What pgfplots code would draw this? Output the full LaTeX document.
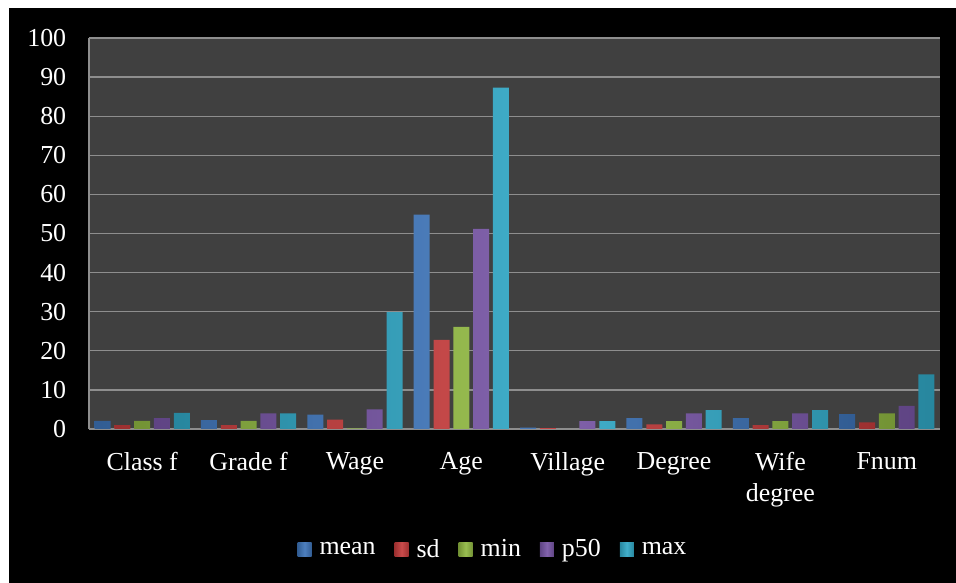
\documentclass[border=0pt]{standalone}
\usepackage{fontspec}
\setmainfont{Liberation Serif}
\usepackage{pgfplots}
\pgfplotsset{compat=1.18}
\definecolor{cmean}{HTML}{3E74B8}
\definecolor{csd}{HTML}{C43C3C}
\definecolor{cmin}{HTML}{90B842}
\definecolor{cp}{HTML}{7755A5}
\definecolor{cmax}{HTML}{31A8C6}
\definecolor{plotbg}{HTML}{404040}
\definecolor{gridc}{HTML}{8E8E8E}
\begin{document}
\fontsize{26}{31}\selectfont
\begin{tikzpicture}
\fill[white] (0bp,0bp) rectangle (956bp,583bp);
\fill[black] (9bp,0bp) rectangle (956bp,575bp);
\begin{axis}[
  at={(89bp,154bp)}, anchor=south west,
  scale only axis, width=851bp, height=391bp,
  xmin=-0.5, xmax=7.5, ymin=0, ymax=100,
  ytick={0,10,...,100},
  xtick={0,...,7},
  xticklabels={Class f,Grade f,Wage,Age,Village,Degree,{Wife\\degree},Fnum},
  axis background/.style={fill=plotbg},
  ymajorgrids, major grid style={draw=gridc, line width=1.3bp},
  axis x line*=bottom, axis y line*=left,
  axis line style={-, draw=gridc, line width=1.3bp},
  tick style={draw=none},
  /pgf/number format/assume math mode=true,
  tick label style={font=\fontsize{26}{31}\selectfont, text=white},
  yticklabel style={xshift=-14bp},
  xticklabel style={align=center, yshift=-10bp},
  ybar=3.8bp, bar width=16bp,
  legend style={at={(0.4747,-0.310)}, anchor=center, draw=none, fill=none,
    text=white, font=\fontsize{26}{31}\selectfont, legend columns=-1,
    /tikz/every even column/.append style={column sep=17bp},
    /tikz/every odd column/.append style={column sep=6bp}},
  legend image code/.code={\fill[#1] (0bp,-6bp) rectangle (14bp,8bp);},
]
\addplot[draw=none, left color=cmean!80!black, right color=cmean!80!black, middle color=cmean!92!white] coordinates {(0,2.1) (1,2.3) (2,3.7) (3,54.8) (4,0.35) (5,2.8) (6,2.8) (7,3.8)};
\addplot[draw=none, left color=csd!80!black, right color=csd!80!black, middle color=csd!92!white] coordinates {(0,1.0) (1,1.0) (2,2.4) (3,22.8) (4,0.2) (5,1.2) (6,1.0) (7,1.7)};
\addplot[draw=none, left color=cmin!80!black, right color=cmin!80!black, middle color=cmin!92!white] coordinates {(0,2.1) (1,2.1) (2,0.15) (3,26.1) (4,0) (5,2.0) (6,2.0) (7,4.0)};
\addplot[draw=none, left color=cp!80!black, right color=cp!80!black, middle color=cp!92!white] coordinates {(0,2.8) (1,4.0) (2,5.0) (3,51.2) (4,2.0) (5,4.0) (6,4.0) (7,5.9)};
\addplot[draw=none, left color=cmax!80!black, right color=cmax!80!black, middle color=cmax!92!white] coordinates {(0,4.1) (1,4.0) (2,29.9) (3,87.3) (4,2.0) (5,4.8) (6,4.8) (7,14.0)};
\legend{mean,sd,min,p50,max}
\end{axis}
\end{tikzpicture}
\end{document}
